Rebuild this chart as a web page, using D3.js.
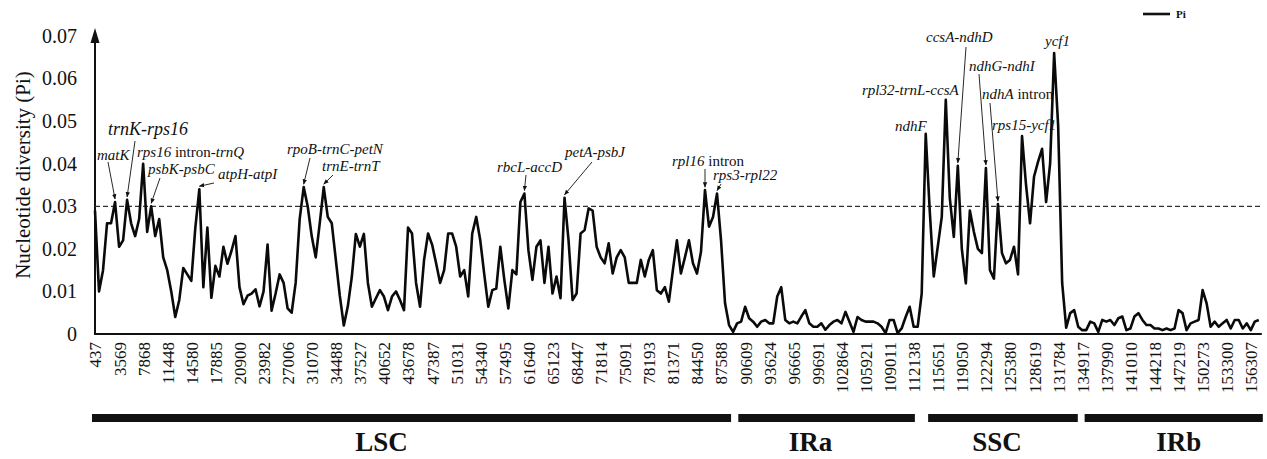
<!DOCTYPE html>
<html>
<head>
<meta charset="utf-8">
<script src="https://cdnjs.cloudflare.com/ajax/libs/d3/7.8.5/d3.min.js"></script>
<style>
  body { margin: 0; background: #fff; }
  svg { display: block; font-family: "Liberation Serif", "Times New Roman", serif; }
</style>
</head>
<body>
<div id="chart"></div>
<script>
// sliding window Pi values (x 1000), one value per window, grouped by region
var lscPi = [29, 10, 15, 26, 26, 31, 20.5, 22, 31.5, 26, 23, 27, 40, 24, 30, 23, 27, 18, 15, 10,
  4, 8, 15.5, 14, 12.5, 25, 34, 11, 25, 8.5, 16, 13.5, 20.5, 16.5, 19.5, 23, 11, 7, 9, 9.5,
  10.5, 6.5, 10, 21, 5.5, 9.5, 14, 12, 6, 5, 12, 27, 34.5, 30, 23, 18, 26, 34.5, 27.5, 26,
  17.5, 9, 2, 6.5, 13.5, 23.5, 20.5, 23.5, 12, 6.4, 8.4, 10.3, 8.8, 5.6, 8.8, 10, 8, 5.6, 25, 23.6,
  12, 6.4, 17.4, 23.6, 21, 16.6, 12, 15, 23.6, 23.6, 20.5, 13.5, 15, 8.8, 23.6, 27.5, 22, 14, 6.4, 10.3,
  10.7, 20.5, 12.7, 6, 15, 14, 31, 33, 19.7, 12.7, 20.5, 22, 12, 20.5, 9.5, 13.5, 8.4, 32, 22, 8,
  9.5, 23.6, 24.4, 29.5, 29, 20.5, 18, 16.6, 21.3, 14.2, 18, 19.7, 18, 12, 12, 12, 17.4, 13.5, 17.4, 19.7,
  10.3, 9.5, 11, 7.6, 15, 22, 14.2, 18, 22, 16.6, 14.2, 19.3, 33.8, 25.2, 27.5, 33, 22, 7.2, 2.1];
var iraPi = [0.5, 2.5, 2.9, 6.4, 3.7, 2.9, 1.7, 2.9, 3.3, 2.5, 2.5, 8.8, 11, 3.3, 2.5, 2.9, 2.5, 4.1, 5.6, 2.5,
  1.7, 1.7, 2.5, 1, 2.1, 2.9, 3.3, 2.5, 5.2, 2.9, 0.5, 4, 3.3, 2.9, 2.9, 2.9, 2.5, 1.7, 0.2, 3.3,
  3.3, 0.2, 1.3, 4, 6.4, 1.7];
var sscPi = [1.7, 9.5, 47, 29, 13.5, 20.5, 27.5, 55, 32, 22.8, 39.5, 20, 11.9, 29, 24, 20, 19, 39, 15, 13,
  30.5, 19, 16.6, 17.4, 20.5, 14, 46.5, 35, 26, 37, 40.5, 43.5, 31, 40, 66, 49, 12, 1.5];
var irbPi = [4.9, 5.6, 1.7, 0.9, 0.9, 2.9, 2.5, 0.5, 3.3, 2.9, 3.3, 2.1, 3.7, 4.1, 0.9, 1.3, 4.1, 4.9, 3.3, 2.1,
  2.1, 1.3, 1.3, 0.9, 1.3, 0.9, 1.3, 5.6, 4.9, 0.9, 2.5, 2.9, 3.3, 10.3, 7.2, 1.7, 2.9, 1.7, 2.5, 3.3,
  1.3, 3.3, 3.3, 1.3, 2.5, 0.9, 2.9, 3.3];

// window midpoints printed under the axis (every 6th window)
var tickLabels = ["437", "3569", "7868", "11448", "14580", "17885", "20900", "23982", "27006", "31070",
  "34488", "37527", "40652", "43678", "47387", "51031", "54340", "57495", "61640", "65123",
  "68447", "71814", "75091", "78193", "81371", "84450", "87588", "90609", "93624", "96665",
  "99691", "102864", "105921", "109011", "112138", "115651", "119050", "122294", "125380", "128619",
  "131784", "134917", "137990", "141010", "144218", "147219", "150273", "153300", "156307"];
var tickStep = 6;
var yTicks = [0, 0.01, 0.02, 0.03, 0.04, 0.05, 0.06, 0.07];
var threshold = 0.03;

// genome regions and where their bars start / end, in window units
var regionNames = ["LSC", "IRa", "SSC", "IRb"];
var regionBounds = [[-0.75, 158.5], [160.3, 204.3], [207.6, 244.9], [246.6, 291]];

// all windows in one list
var piValues = [].concat(lscPi, iraPi, sscPi, irbPi).map(function(v) { return v / 1000; });

// hotspot labels; idx = window that the label belongs to
var hotspots = [
  { parts: [["matK", 1]], idx: 5, tx: 97, ty: 160, ax: 108, ay: 162 },
  { parts: [["trnK-rps16", 1]], idx: 8, tx: 108, ty: 135, ax: 135, ay: 141, size: 18 },
  { parts: [["rps16", 1], [" intron-", 0], ["trnQ", 1]], idx: 12, tx: 137, ty: 157 },
  { parts: [["psbK-psbC", 1]], idx: 14, tx: 148, ty: 174, ax: 160, ay: 178 },
  { parts: [["atpH-atpI", 1]], idx: 26, tx: 218, ty: 179, ax: 214, ay: 183 },
  { parts: [["rpoB-trnC-petN", 1]], idx: 52, tx: 287, ty: 154, ax: 310, ay: 158 },
  { parts: [["trnE-trnT", 1]], idx: 57, tx: 322, ty: 171, ax: 333, ay: 175 },
  { parts: [["rbcL-accD", 1]], idx: 107, tx: 497, ty: 172, ax: 526, ay: 175 },
  { parts: [["petA-psbJ", 1]], idx: 117, tx: 565, ty: 157, ax: 592, ay: 162 },
  { parts: [["rpl16", 1], [" intron", 0]], idx: 152, tx: 672, ty: 166, ax: 705, ay: 169 },
  { parts: [["rps3-rpl22", 1]], idx: 155, tx: 713, ty: 180, ax: 721, ay: 184 },
  { parts: [["ndhF", 1]], idx: 207, tx: 895, ty: 131 },
  { parts: [["rpl32-trnL-ccsA", 1]], idx: 212, tx: 862, ty: 95 },
  { parts: [["ccsA-ndhD", 1]], idx: 215, tx: 926, ty: 42, ax: 966, ay: 47 },
  { parts: [["ndhG-ndhI", 1]], idx: 222, tx: 969, ty: 71, ax: 979, ay: 74 },
  { parts: [["ndhA", 1], [" intron", 0]], idx: 225, tx: 982, ty: 99, ax: 990, ay: 103 },
  { parts: [["rps15-ycf1", 1]], idx: 231, tx: 992, ty: 130 },
  { parts: [["ycf1", 1]], idx: 239, tx: 1045, ty: 46 }
];

const width = 1267,
  height = 459,
  left = 95,
  bottom = 334;

var svg = d3.select("#chart").append("svg")
    .attr("width", width)
    .attr("height", height);

var x = d3.scaleLinear()
    .domain([0, piValues.length - 1])
    .range([left, 1258.8]);

var y = d3.scaleLinear()
    .domain([0, 0.07])
    .range([bottom, 36]);

// arrow head for hotspot pointers
svg.append("defs").append("marker")
    .attr("id", "tip")
    .attr("viewBox", "0 0 10 10")
    .attr("refX", 9)
    .attr("refY", 5)
    .attr("markerWidth", 6)
    .attr("markerHeight", 6)
    .attr("orient", "auto")
  .append("path")
    .attr("d", "M0,1 L10,5 L0,9 Z")
    .attr("fill", "#111");

// y axis, labels only
var yAxis = svg.append("g")
    .attr("transform", "translate(" + left + ",0)")
    .call(d3.axisLeft(y)
      .tickValues(yTicks)
      .tickSize(0)
      .tickPadding(18)
      .tickFormat(function(d) { return d === 0 ? "0" : d3.format(".2f")(d); }));
yAxis.select(".domain").remove();
yAxis.selectAll("text")
    .attr("font-family", "Liberation Serif, serif")
    .attr("font-size", 20)
    .attr("fill", "#111");

// axis lines, y axis ends in an arrow
svg.append("line")
    .attr("x1", left).attr("x2", left)
    .attr("y1", bottom).attr("y2", y(0.07) - 2)
    .attr("stroke", "#111")
    .attr("stroke-width", 2);
svg.append("path")
    .attr("d", "M" + (left - 4.5) + "," + (y(0.07) + 7) + " L" + left + "," + (y(0.07) - 8) + " L" + (left + 4.5) + "," + (y(0.07) + 7) + " Z")
    .attr("fill", "#111");
svg.append("line")
    .attr("x1", left - 1).attr("x2", x.range()[1] + 3)
    .attr("y1", bottom).attr("y2", bottom)
    .attr("stroke", "#111")
    .attr("stroke-width", 2);

// x tick labels, rotated
var xAxis = svg.append("g")
    .attr("transform", "translate(0," + bottom + ")")
    .call(d3.axisBottom(x)
      .tickValues(tickLabels.map(function(d, i) { return i * tickStep; }))
      .tickSize(0)
      .tickFormat(function(d) { return tickLabels[d / tickStep]; }));
xAxis.select(".domain").remove();
xAxis.selectAll("text")
    .attr("font-family", "Liberation Serif, serif")
    .attr("font-size", 17)
    .attr("fill", "#111")
    .attr("text-anchor", "end")
    .attr("transform", "translate(0,8) rotate(-90)")
    .attr("x", 0)
    .attr("y", 0)
    .attr("dy", "0.35em");

// y axis title
svg.append("text")
    .attr("transform", "translate(23,175) rotate(-90)")
    .attr("text-anchor", "middle")
    .attr("dy", "0.35em")
    .attr("font-size", 21)
    .attr("fill", "#111")
    .text("Nucleotide diversity (Pi)");

// threshold line
svg.append("line")
    .attr("x1", left).attr("x2", x.range()[1] + 3)
    .attr("y1", y(threshold)).attr("y2", y(threshold))
    .attr("stroke", "#333")
    .attr("stroke-width", 1.2)
    .attr("stroke-dasharray", "5,3");

// Pi line
var line = d3.line()
    .x(function(d, i) { return x(i); })
    .y(function(d) { return y(d); });

svg.append("path")
    .datum(piValues)
    .attr("d", line)
    .attr("fill", "none")
    .attr("stroke", "#0a0a0a")
    .attr("stroke-width", 2.6)
    .attr("stroke-linejoin", "round");

// region bars under the axis
var regions = regionNames.map(function(name, k) {
  return { name: name, from: regionBounds[k][0], to: regionBounds[k][1] };
});
var labelShift = [-30, -16, -6, 5];

svg.selectAll(".region")
    .data(regions)
    .enter().append("rect")
    .attr("class", "region")
    .attr("x", function(d) { return x(d.from); })
    .attr("width", function(d) { return x(d.to) - x(d.from); })
    .attr("y", 414)
    .attr("height", 8)
    .attr("fill", "#111");

svg.selectAll(".regionLabel")
    .data(regions)
    .enter().append("text")
    .attr("class", "regionLabel")
    .attr("x", function(d, k) { return (x(d.from) + x(d.to)) / 2 + labelShift[k]; })
    .attr("y", 451)
    .attr("text-anchor", "middle")
    .attr("font-size", 27)
    .attr("font-weight", "bold")
    .attr("fill", "#111")
    .text(function(d) { return d.name; });

// hotspot labels and arrows
hotspots.forEach(function(h) {
  var t = svg.append("text")
      .attr("x", h.tx)
      .attr("y", h.ty)
      .attr("font-size", h.size || 15)
      .attr("fill", "#111");
  h.parts.forEach(function(p) {
    t.append("tspan")
      .attr("font-style", p[1] ? "italic" : "normal")
      .text(p[0]);
  });
  if (h.ax !== undefined) {
    svg.append("line")
      .attr("x1", h.ax).attr("y1", h.ay)
      .attr("x2", x(h.idx)).attr("y2", y(piValues[h.idx]) - 3)
      .attr("stroke", "#111")
      .attr("stroke-width", 0.9)
      .attr("marker-end", "url(#tip)");
  }
});

// legend
svg.append("line")
    .attr("x1", 1143).attr("x2", 1170)
    .attr("y1", 14).attr("y2", 14)
    .attr("stroke", "#111")
    .attr("stroke-width", 2.6);
svg.append("text")
    .attr("x", 1176)
    .attr("y", 14)
    .attr("dy", "0.35em")
    .attr("font-size", 11)
    .attr("font-weight", "bold")
    .attr("fill", "#111")
    .text("Pi");
</script>
</body>
</html>
